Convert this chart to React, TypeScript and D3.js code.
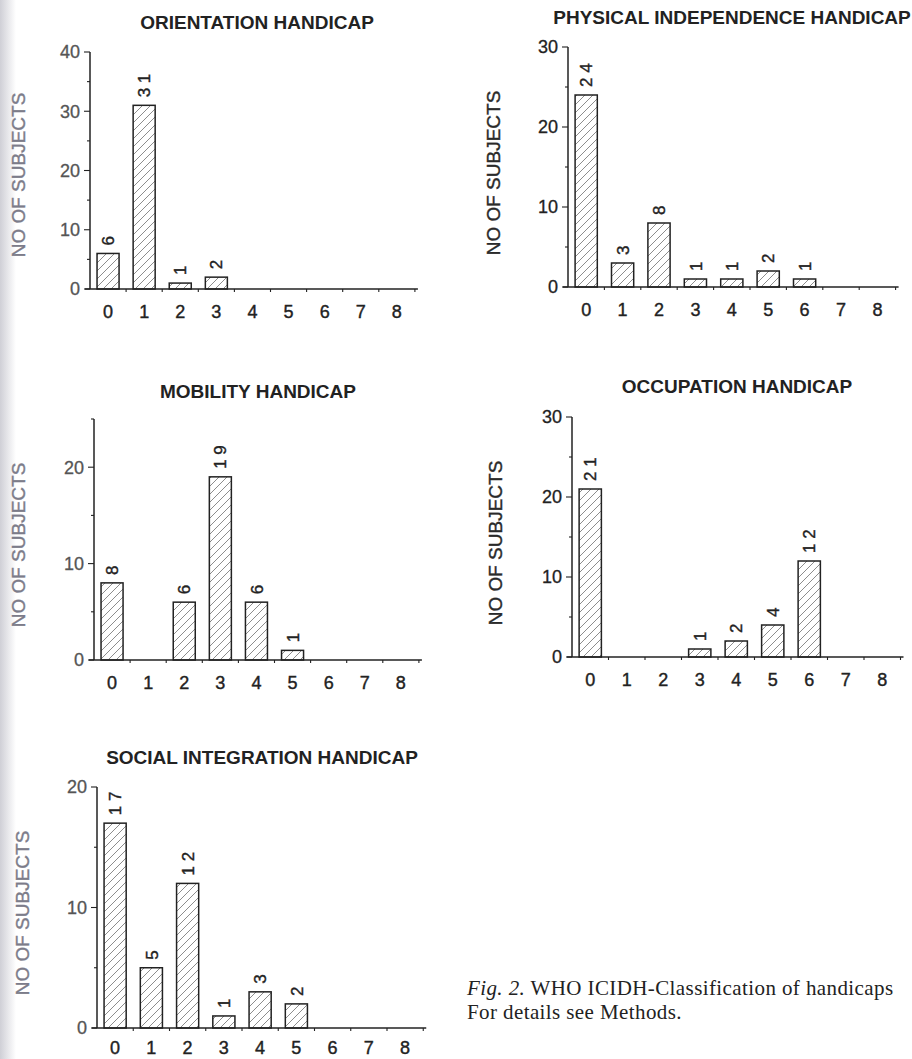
import React, {useRef, useEffect} from "react";
import * as d3 from 'd3';

// handicap grade 0..8
const grades = [0, 1, 2, 3, 4, 5, 6, 7, 8];

const orientation = [6, 31, 1, 2, 0, 0, 0, 0, 0];
const physical = [24, 3, 8, 1, 1, 2, 1, 0, 0];
const mobility = [8, 0, 6, 19, 6, 1, 0, 0, 0];
const occupation = [21, 0, 0, 1, 2, 4, 12, 0, 0];
const social = [17, 5, 12, 1, 3, 2, 0, 0, 0];

const titles = [
    'ORIENTATION HANDICAP',
    'PHYSICAL INDEPENDENCE HANDICAP',
    'MOBILITY HANDICAP',
    'OCCUPATION HANDICAP',
    'SOCIAL INTEGRATION HANDICAP',
];
const yMax = [40, 30, 25, 30, 20];
const yTicks = [[0, 10, 20, 30, 40], [0, 10, 20, 30], [0, 10, 20], [0, 10, 20, 30], [0, 10, 20]];
const yLabel = 'NO OF SUBJECTS';
const captionItalic = 'Fig. 2.';
const captionLine1 = ' WHO ICIDH-Classification of handicaps';
const captionLine2 = 'For details see Methods.';

// placement of each panel on the page
const layout = [
    {x0: 90, y0: 289, yTop: 52, step: 36.1, titleX: 257, titleY: 29, labX: 18, labY: 175, tickDy: 29, faded: true},
    {x0: 568, y0: 287, yTop: 47, step: 36.4, titleX: 732, titleY: 24, labX: 493, labY: 173, tickDy: 29, faded: false},
    {x0: 94, y0: 660, yTop: 419, step: 36.1, titleX: 258, titleY: 398, labX: 18, labY: 545, tickDy: 29, faded: true},
    {x0: 572, y0: 657, yTop: 417, step: 36.5, titleX: 737, titleY: 393, labX: 495, labY: 543, tickDy: 29, faded: false},
    {x0: 97, y0: 1028, yTop: 787, step: 36.25, titleX: 262, titleY: 764, labX: 22, labY: 913, tickDy: 26, faded: true},
];

const series = [orientation, physical, mobility, occupation, social];

const sans = 'Liberation Sans, Arial, sans-serif'

const Figure = ({width, height}) => {
    const svgRef = useRef()

    useEffect(() => {
        const svg = d3.select(svgRef.current)
        svg.selectAll('*').remove();

        const defs = svg.append('defs')
        defs.append('pattern')
            .attr('id', 'hatch')
            .attr('patternUnits', 'userSpaceOnUse')
            .attr('width', 8).attr('height', 8)
            .append('path')
            .attr('d', 'M0,8 L8,0 M-1,1 L1,-1 M7,9 L9,7')
            .attr('stroke', '#808080')
            .attr('stroke-width', 0.9)
        const grad = defs.append('linearGradient').attr('id', 'edge')
        grad.append('stop').attr('offset', '0%').attr('stop-color', '#cfcfd6')
        grad.append('stop').attr('offset', '100%').attr('stop-color', '#ffffff')

        svg.append('rect').attr('width', width).attr('height', height).attr('fill', '#fff')
        // scanned page edge
        svg.append('rect').attr('width', 16).attr('height', height).attr('fill', 'url(#edge)')

        series.forEach((values, i) => {
            const L = layout[i]
            const g = svg.append('g')
            const ink = '#222'
            const soft = L.faded ? '#7c7c8a' : '#2a2a2a'
            const bars = values.map((v, k) => ({g: grades[k], v})).filter(d => d.v > 0)

            const xScale = d3.scaleBand()
                .domain(grades)
                .range([L.x0, L.x0 + 9 * L.step])
                .paddingInner(0.39)
                .paddingOuter(0.195)

            const yScale = d3.scaleLinear()
                .domain([0, yMax[i]])
                .range([L.y0, L.yTop])

            // bars
            g.selectAll('rect.bar')
                .data(bars)
                .enter()
                .append('rect')
                .attr('x', d => xScale(d.g))
                .attr('y', d => yScale(d.v))
                .attr('width', xScale.bandwidth())
                .attr('height', d => L.y0 - yScale(d.v))
                .attr('fill', 'url(#hatch)')
                .attr('stroke', ink)
                .attr('stroke-width', 1.5)

            // value labels, rotated
            g.selectAll('text.val')
                .data(bars)
                .enter()
                .append('text')
                .attr('transform', d => `translate(${xScale(d.g) + xScale.bandwidth() / 2},${yScale(d.v) - 8}) rotate(-90)`)
                .attr('dy', '0.36em')
                .attr('font-family', sans)
                .attr('font-size', 17)
                .attr('fill', ink)
                .attr('stroke', ink)
                .attr('stroke-width', 0.4)
                .text(d => String(d.v).split('').join(' '))

            // y axis
            g.append('line')
                .attr('x1', L.x0).attr('x2', L.x0)
                .attr('y1', L.y0).attr('y2', yScale(yMax[i]))
                .attr('stroke', ink).attr('stroke-width', 1.5)
            d3.range(0, yMax[i] + 1, 5).forEach(t => {
                const major = t % 10 === 0
                g.append('line')
                    .attr('x1', L.x0 - (major ? 6 : 3)).attr('x2', L.x0)
                    .attr('y1', yScale(t)).attr('y2', yScale(t))
                    .attr('stroke', ink).attr('stroke-width', 1.1)
            })
            g.selectAll('text.ytick')
                .data(yTicks[i])
                .enter()
                .append('text')
                .attr('x', L.x0 - 10)
                .attr('y', d => yScale(d))
                .attr('dy', '0.36em')
                .attr('text-anchor', 'end')
                .attr('font-family', sans)
                .attr('font-size', 18)
                .attr('fill', L.faded ? '#555' : ink)
                .attr('stroke', L.faded ? '#555' : ink)
                .attr('stroke-width', 0.3)
                .text(d => d)

            // x axis
            const xEnd = L.x0 + 9 * L.step + 3
            g.append('line')
                .attr('x1', L.x0 - 5).attr('x2', xEnd)
                .attr('y1', L.y0).attr('y2', L.y0)
                .attr('stroke', ink).attr('stroke-width', 1.5)
            d3.range(1, 10).forEach(k => {
                const x = L.x0 + k * L.step
                g.append('line')
                    .attr('x1', x).attr('x2', x)
                    .attr('y1', L.y0).attr('y2', L.y0 + 3)
                    .attr('stroke', ink).attr('stroke-width', 1.1)
            })
            g.selectAll('text.xtick')
                .data(grades)
                .enter()
                .append('text')
                .attr('x', d => xScale(d) + xScale.bandwidth() / 2)
                .attr('y', L.y0 + L.tickDy)
                .attr('text-anchor', 'middle')
                .attr('font-family', sans)
                .attr('font-size', 18)
                .attr('fill', ink)
                .attr('stroke', ink)
                .attr('stroke-width', 0.4)
                .text(d => d)

            // title
            g.append('text')
                .attr('x', L.titleX).attr('y', L.titleY)
                .attr('text-anchor', 'middle')
                .attr('font-family', sans)
                .attr('font-size', 19)
                .attr('font-weight', 'bold')
                .attr('fill', ink)
                .text(titles[i])

            // y label
            g.append('text')
                .attr('transform', `translate(${L.labX},${L.labY}) rotate(-90)`)
                .attr('dy', '0.36em')
                .attr('text-anchor', 'middle')
                .attr('font-family', sans)
                .attr('font-size', 19)
                .attr('fill', soft)
                .attr('stroke', soft)
                .attr('stroke-width', 0.4)
                .text(yLabel)
        })

        // caption
        const cap = svg.append('text')
            .attr('x', 467).attr('y', 995)
            .attr('font-family', 'Liberation Serif, Times New Roman, serif')
            .attr('font-size', 21)
            .attr('letter-spacing', 0.4)
            .attr('fill', '#222')
        cap.append('tspan').attr('font-style', 'italic').text(captionItalic)
        cap.append('tspan').text(captionLine1)
        svg.append('text')
            .attr('x', 467).attr('y', 1019)
            .attr('font-family', 'Liberation Serif, Times New Roman, serif')
            .attr('font-size', 21)
            .attr('letter-spacing', 0.4)
            .attr('fill', '#222')
            .text(captionLine2)

    }, [width, height])

    return (
        <svg ref={svgRef} width={width} height={height} style={{display: 'block'}}>
        </svg>
    )
}

export default function App() {
    return (
        <div style={{position: 'fixed', left: 0, top: 0, width: 912, height: 1059, overflow: 'hidden'}}>
            <Figure width={912} height={1059} />
        </div>
    )
}
